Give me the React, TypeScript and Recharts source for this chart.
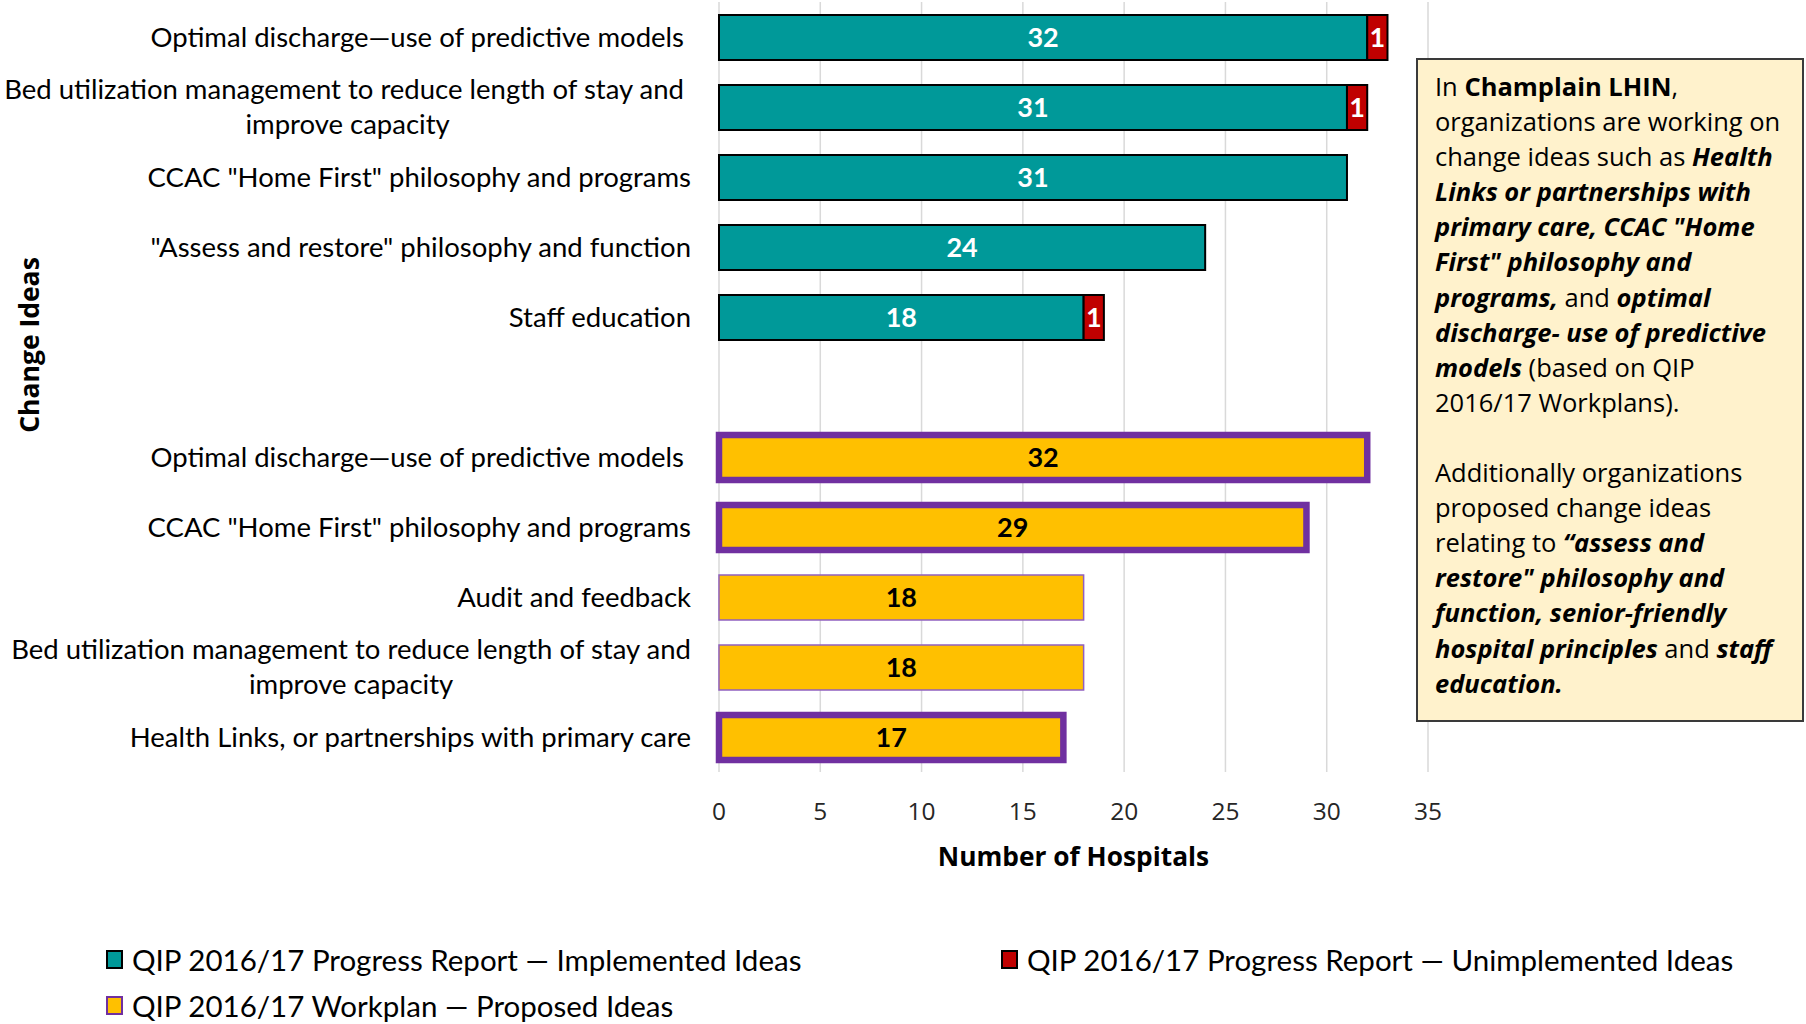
import React from "react";
import { Bar, BarChart, CartesianGrid, Cell, Label, LabelList, XAxis, YAxis } from "recharts";

const categories = [
  "Optimal discharge\u2014use of predictive models ",
  "Bed utilization management to reduce length of stay and \nimprove capacity",
  'CCAC "Home First" philosophy and programs',
  '"Assess and restore" philosophy and function',
  "Staff education",
  "",
  "Optimal discharge\u2014use of predictive models ",
  'CCAC "Home First" philosophy and programs',
  "Audit and feedback",
  "Bed utilization management to reduce length of stay and\nimprove capacity",
  "Health Links, or partnerships with primary care",
];
const implemented = [32, 31, 31, 24, 18, null, null, null, null, null, null];
const unimplemented = [1, 1, null, null, 1, null, null, null, null, null, null];
const proposed = [null, null, null, null, null, null, 32, 29, 18, 18, 17];
// proposed ideas that are called out in the note box
const highlighted = [false, false, false, false, false, false, true, true, false, false, true];
const xTicks = [0, 5, 10, 15, 20, 25, 30, 35];

const legendItems = [
  { label: "QIP 2016/17 Progress Report \u2014 Implemented Ideas", fill: "#009999", stroke: "#000" },
  { label: "QIP 2016/17 Progress Report \u2014 Unimplemented Ideas", fill: "#C00000", stroke: "#000" },
  { label: "QIP 2016/17 Workplan \u2014 Proposed Ideas", fill: "#FFC000", stroke: "#7030A0" },
];

const data = categories.map((label, i) => ({
  id: `r${i}`,
  label,
  implemented: implemented[i],
  unimplemented: unimplemented[i],
  proposed: proposed[i],
}));

const CAL = "Lato, 'Noto Sans', sans-serif";
const SEG = "'Open Sans', 'Noto Sans', sans-serif";

function CategoryTick(props: any) {
  const { x, y, payload } = props;
  const row = data.find((d) => d.id === payload.value);
  const text = row ? row.label : "";
  return (
    <foreignObject x={x - 28 - 720} y={y - 41} width={720} height={80}>
      <div
        style={{
          width: 720,
          height: 80,
          display: "flex",
          alignItems: "center",
          justifyContent: "flex-end",
        }}
      >
        <div
          style={{
            textAlign: "center",
            whiteSpace: "pre",
            fontFamily: CAL,
            fontSize: 27.5,
            lineHeight: "35px",
            color: "#000",
          }}
        >
          {text}
        </div>
      </div>
    </foreignObject>
  );
}

function NumberTick(props: any) {
  const { x, y, payload } = props;
  return (
    <text x={x} y={y + 38} textAnchor="middle" dominantBaseline="central" fontFamily={SEG} fontSize={24.5} fill="#262626">
      {payload.value}
    </text>
  );
}

const fmt = (v: any) => (v == null ? "" : v);

export default function App() {
  return (
    <div style={{ position: "absolute", left: 0, top: 0, width: 1806, height: 1024, background: "#fff" }}>
      <BarChart
        width={1806}
        height={1024}
        data={data}
        layout="vertical"
        margin={{ top: 2, right: 378, bottom: 152, left: 0 }}
        barSize={45}
      >
        <CartesianGrid horizontal={false} stroke="#d9d9d9" strokeWidth={1.5} />
        <XAxis
          type="number"
          domain={[0, 35]}
          ticks={xTicks}
          axisLine={false}
          tickLine={false}
          tickSize={0}
          tickMargin={0}
          height={100}
          tick={<NumberTick />}
          interval={0}
        >
          <Label
            content={(p: any) => {
              const vb = p.viewBox;
              return (
                <text
                  x={vb.x + vb.width / 2}
                  y={vb.y + 84}
                  textAnchor="middle"
                  dominantBaseline="central"
                  fontFamily={SEG}
                  fontWeight="bold"
                  fontSize={26.3}
                  fill="#000"
                >
                  Number of Hospitals
                </text>
              );
            }}
          />
        </XAxis>
        <YAxis
          type="category"
          dataKey="id"
          width={719}
          axisLine={false}
          tickLine={false}
          tickSize={0}
          tickMargin={0}
          interval={0}
          tick={<CategoryTick />}
        >
          <Label
            content={(p: any) => {
              const vb = p.viewBox;
              const cx = 29;
              const cy = vb.y + 343;
              return (
                <text
                  x={cx}
                  y={cy}
                  transform={`rotate(-90 ${cx} ${cy})`}
                  textAnchor="middle"
                  dominantBaseline="central"
                  fontFamily={SEG}
                  fontWeight="bold"
                  fontSize={26.5}
                  fill="#000"
                >
                  Change Ideas
                </text>
              );
            }}
          />
        </YAxis>
        <Bar dataKey="implemented" stackId="a" fill="#009999" stroke="#000" strokeWidth={2} isAnimationActive={false}>
          <LabelList dataKey="implemented" position="center" formatter={fmt} fill="#fff" fontFamily={CAL} fontWeight="bold" fontSize={27} />
        </Bar>
        <Bar dataKey="unimplemented" stackId="a" fill="#C00000" stroke="#000" strokeWidth={2} isAnimationActive={false}>
          <LabelList dataKey="unimplemented" position="center" formatter={fmt} fill="#fff" fontFamily={CAL} fontWeight="bold" fontSize={27} />
        </Bar>
        <Bar dataKey="proposed" stackId="a" fill="#FFC000" isAnimationActive={false}>
          {data.map((d, i) => (
            <Cell
              key={d.id}
              stroke={highlighted[i] ? "#7030A0" : "#9060C0"}
              strokeWidth={highlighted[i] ? 6.5 : 1.5}
            />
          ))}
          <LabelList dataKey="proposed" position="center" formatter={fmt} fill="#000" fontFamily={CAL} fontWeight="bold" fontSize={27} />
        </Bar>
      </BarChart>

      <div
        style={{
          position: "absolute",
          left: 1416,
          top: 58,
          width: 388,
          height: 664,
          boxSizing: "border-box",
          border: "2px solid #3a3a3a",
          background: "#FFF2CC",
          padding: "9px 0 0 17px",
          fontFamily: SEG,
          fontSize: 25.5,
          lineHeight: "35.1px",
          color: "#000",
          whiteSpace: "nowrap",
        }}
      >
        In <b>Champlain LHIN</b>,<br />
        organizations are working on<br />
        change ideas such as <b><i>Health</i></b>
        <br />
        <b><i>Links or partnerships with</i></b>
        <br />
        <b><i>primary care, CCAC "Home</i></b>
        <br />
        <b><i>First" philosophy and</i></b>
        <br />
        <b><i>programs,</i></b> and <b><i>optimal</i></b>
        <br />
        <b><i>discharge- use of predictive</i></b>
        <br />
        <b><i>models</i></b> (based on QIP
        <br />
        2016/17 Workplans).
        <br />
        <br />
        Additionally organizations
        <br />
        proposed change ideas
        <br />
        relating to <b><i>“assess and</i></b>
        <br />
        <b><i>restore" philosophy and</i></b>
        <br />
        <b><i>function, senior-friendly</i></b>
        <br />
        <b><i>hospital principles</i></b> and <b><i>staff</i></b>
        <br />
        <b><i>education.</i></b>
      </div>

      {legendItems.map((item, i) => {
        const left = i === 1 ? 1001 : 106;
        const top = i === 2 ? 1005 : 959;
        return (
          <div
            key={item.label}
            style={{
              position: "absolute",
              left,
              top: top - 20,
              height: 40,
              display: "flex",
              alignItems: "center",
              fontFamily: CAL,
              fontSize: 29.5,
              color: "#000",
              whiteSpace: "nowrap",
            }}
          >
            <span
              style={{
                display: "inline-block",
                width: 17,
                height: 19,
                boxSizing: "border-box",
                background: item.fill,
                border: `2px solid ${item.stroke}`,
                marginRight: 9,
              }}
            />
            {item.label}
          </div>
        );
      })}
    </div>
  );
}
